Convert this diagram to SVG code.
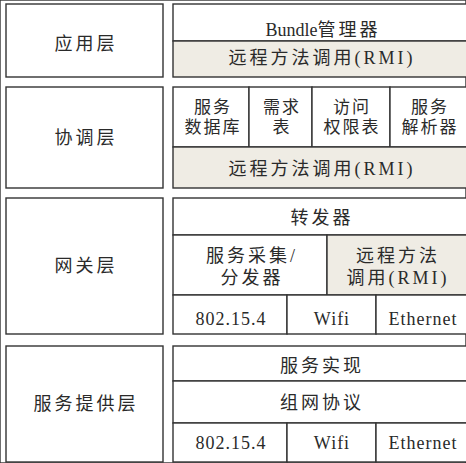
<svg xmlns="http://www.w3.org/2000/svg" width="466" height="463" viewBox="0 0 466 463">
<style>
rect{stroke:#333;stroke-width:1.4;fill:#fff}
rect.rmi{fill:#efece4}
line{stroke:#333;stroke-width:1.4}
text{font-family:"Liberation Serif","Noto Sans CJK SC",serif;font-size:17px;fill:#2a2a2a;text-anchor:middle;letter-spacing:2px}
text.big{font-size:18px;letter-spacing:3px}
text.lat{font-size:18px;letter-spacing:1px}
</style>
<rect width="466" height="463" fill="#fff" stroke="none"/>
<g id="app-layer">
<rect x="6" y="4" width="157" height="73"/>
<text class="big" x="86" y="50">应用层</text>
<rect x="173" y="4" width="296" height="37"/>
<text class="big" x="323" y="36"><tspan letter-spacing="0">Bundle</tspan>管理器</text>
<rect class="rmi" x="173" y="41" width="296" height="36"/>
<text class="big" x="322" y="64">远程方法调用(RMI)</text>
</g>
<g id="coord-layer">
<rect x="6" y="87" width="157" height="101"/>
<text class="big" x="86" y="144">协调层</text>
<rect x="173" y="87" width="76" height="60"/>
<text x="213" y="113">服务</text>
<text x="213" y="133">数据库</text>
<rect x="249" y="87" width="63" height="60"/>
<text x="282" y="113">需求</text>
<text x="282" y="133">表</text>
<rect x="312" y="87" width="78" height="60"/>
<text x="352" y="113">访问</text>
<text x="352" y="133">权限表</text>
<rect x="390" y="87" width="79" height="60"/>
<text x="430" y="113">服务</text>
<text x="430" y="133">解析器</text>
<rect class="rmi" x="173" y="147" width="296" height="41"/>
<text class="big" x="322" y="175">远程方法调用(RMI)</text>
</g>
<g id="gateway-layer">
<rect x="6" y="198" width="157" height="136"/>
<text class="big" x="86" y="272">网关层</text>
<rect x="173" y="198" width="296" height="37"/>
<text class="big" x="322" y="224">转发器</text>
<rect x="173" y="235" width="154" height="60"/>
<text class="big" x="252" y="262">服务采集/</text>
<text class="big" x="252" y="284">分发器</text>
<rect class="rmi" x="327" y="235" width="142" height="60"/>
<text class="big" x="398" y="262">远程方法</text>
<text class="big" x="398" y="284">调用(RMI)</text>
<rect x="173" y="295" width="114" height="39"/>
<text class="lat" x="231" y="325">802.15.4</text>
<rect x="287" y="295" width="89" height="39"/>
<text class="lat" x="332" y="325">Wifi</text>
<rect x="376" y="295" width="93" height="39"/>
<text class="lat" x="423" y="325">Ethernet</text>
</g>
<g id="provider-layer">
<rect x="6" y="346" width="157" height="116"/>
<text class="big" x="86" y="410">服务提供层</text>
<rect x="173" y="346" width="296" height="35"/>
<text class="big" x="322" y="372">服务实现</text>
<rect x="173" y="381" width="296" height="42"/>
<text class="big" x="322" y="409">组网协议</text>
<rect x="173" y="423" width="114" height="39"/>
<text class="lat" x="231" y="449">802.15.4</text>
<rect x="287" y="423" width="89" height="39"/>
<text class="lat" x="332" y="449">Wifi</text>
<rect x="376" y="423" width="93" height="39"/>
<text class="lat" x="423" y="449">Ethernet</text>
</g>
<g id="connectors"/>
</svg>
